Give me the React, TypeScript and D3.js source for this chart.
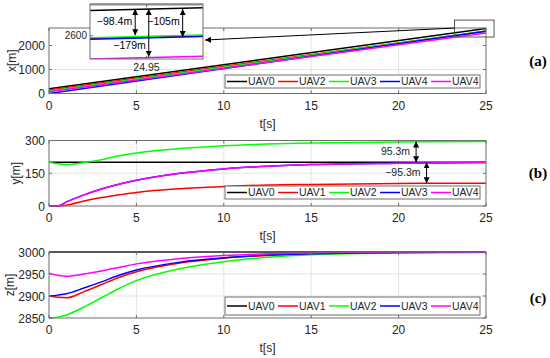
import React from 'react';
import * as d3 from 'd3';

// time knots for the curved panels (y, z)
const T = [0, 0.5, 1, 2, 3, 4, 5, 7.5, 10, 12.5, 15, 20, 25];
const T_LIN = [0, 25];

// panel (a) x positions — straight lines
const X_UAV0 = [200, 2705];
const X_UAV1 = [150, 2600];
const X_UAV2 = [100, 2603];
const X_UAV3 = [0, 2597];
const X_UAV4 = [70, 2523];

// panel (b) y positions
const Y_UAV0 = [200, 200, 200, 200, 200, 200, 200, 200, 200, 200, 200, 200, 200];
const Y_UAV1 = [0, 0, 4, 23, 39, 51, 62, 79, 89, 96, 99, 103, 104.7];
const Y_UAV2 = [200, 193, 190, 199, 212, 230, 243, 263, 276, 284, 289, 293, 295.3];
const Y_UAV3 = [0, 0, 19, 51, 78, 100, 118, 150, 170, 182, 190, 196, 199];
const Y_UAV4 = [0, 0, 19, 51, 78, 100, 118, 150, 170, 182, 190, 196, 199];

// panel (c) z positions
const Z_UAV0 = [3000, 3000, 3000, 3000, 3000, 3000, 3000, 3000, 3000, 3000, 3000, 3000, 3000];
const Z_UAV1 = [2900, 2897, 2896, 2910, 2926, 2942, 2955, 2975, 2986, 2992, 2996, 2999, 3000];
const Z_UAV2 = [2850, 2852, 2857, 2875, 2896, 2917, 2935, 2962, 2978, 2988, 2994, 2998, 2999];
const Z_UAV3 = [2900, 2902, 2905, 2918, 2932, 2947, 2959, 2977, 2987, 2993, 2996, 2999, 3000];
const Z_UAV4 = [2952, 2947, 2945, 2950, 2957, 2965, 2973, 2985, 2992, 2996, 2998, 3000, 3000];

const COLORS = ['#000000', '#ff0000', '#00ff00', '#0000ff', '#ff00ff'];
const LEGEND_A = ['UAV0', 'UAV2', 'UAV3', 'UAV4', 'UAV4'];
const LEGEND_BC = ['UAV0', 'UAV1', 'UAV2', 'UAV3', 'UAV4'];

const X_TICKS = [0, 5, 10, 15, 20, 25];
const A_TICKS = [0, 1000, 2000];
const B_TICKS = [0, 150, 300];
const C_TICKS = [2850, 2900, 2950, 3000];

// arrows in panel (b): [t, from, to, label]
const B_ARROWS: [number, number, number, string][] = [
  [21.0, 295.3, 200, '95.3m'],
  [21.6, 200, 104.7, '\u221295.3m'],
];
// arrows in the zoom inset: [t, from, to, label, labelY]
const INSET_ARROWS: [number, number, number, string, number][] = [
  [24.94, 2700, 2601.6, '\u221298.4m', 2655],
  [24.952, 2700, 2521, '\u2212179m', 2565],
  [24.982, 2700, 2595, '\u2212105m', 2655],
];

const FONT = '"Liberation Sans", Arial, sans-serif';
const L = 49;
const R = 486;

function Panel({ top, bottom, domain, ticks, series, times, names, legendY, legendH, ylabel, ylabelX, tag }) {
  const x = d3.scaleLinear().domain([0, 25]).range([L, R]);
  const y = d3.scaleLinear().domain(domain).range([bottom, top]);
  const line = d3.line<[number, number]>()
    .x((d) => x(d[0]))
    .y((d) => y(d[1]))
    .curve(times.length > 2 ? d3.curveMonotoneX : d3.curveLinear);
  const clipId = `clip-${tag}`;
  const lx = 225;
  const lw = 255;
  return (
    <g>
      <defs>
        <clipPath id={clipId}>
          <rect x={L} y={top - 2} width={R - L} height={bottom - top + 4} />
        </clipPath>
      </defs>
      <rect x={L} y={top} width={R - L} height={bottom - top} fill="#fff" />
      {X_TICKS.slice(1, -1).map((t) => (
        <line key={`gx${t}`} x1={x(t)} x2={x(t)} y1={top} y2={bottom} stroke="#e3e3e3" />
      ))}
      {ticks.slice(1, -1).map((v) => (
        <line key={`gy${v}`} x1={L} x2={R} y1={y(v)} y2={y(v)} stroke="#e3e3e3" />
      ))}
      <g clipPath={`url(#${clipId})`}>
        {series.map((vals, i) => (
          <path key={i} d={line(times.map((t, j) => [t, vals[j]])) || ''}
            fill="none" stroke={COLORS[i]} strokeWidth={1.5} />
        ))}
      </g>
      <rect x={L} y={top} width={R - L} height={bottom - top} fill="none" stroke="#6e6e6e" strokeWidth={1} />
      {X_TICKS.map((t) => (
        <g key={`tx${t}`}>
          <line x1={x(t)} x2={x(t)} y1={bottom} y2={bottom - 3} stroke="#6e6e6e" />
          <line x1={x(t)} x2={x(t)} y1={top} y2={top + 3} stroke="#6e6e6e" />
          <text x={x(t)} y={bottom + 16} textAnchor="middle" fontSize={12} fontFamily={FONT} fill="#262626">{t}</text>
        </g>
      ))}
      {ticks.map((v) => (
        <g key={`ty${v}`}>
          <line x1={L} x2={L + 3} y1={y(v)} y2={y(v)} stroke="#6e6e6e" />
          <line x1={R} x2={R - 3} y1={y(v)} y2={y(v)} stroke="#6e6e6e" />
          <text x={L - 4} y={y(v) + 4.5} textAnchor="end" fontSize={12} fontFamily={FONT} fill="#262626">{v}</text>
        </g>
      ))}
      <text x={(L + R) / 2} y={bottom + 34} textAnchor="middle" fontSize={12} fontFamily={FONT} fill="#262626">t[s]</text>
      <text transform={`translate(${ylabelX},${(top + bottom) / 2}) rotate(-90)`} textAnchor="middle"
        fontSize={12} fontFamily={FONT} fill="#262626">{ylabel}</text>
      <rect x={lx} y={legendY} width={lw} height={legendH} fill="#fff" stroke="#6e6e6e" />
      {names.map((n, i) => {
        const ex = lx + 2 + i * 51;
        const cy = legendY + legendH / 2;
        return (
          <g key={`lg${i}`}>
            <line x1={ex} x2={ex + 20} y1={cy} y2={cy} stroke={COLORS[i]} strokeWidth={1.5} />
            <text x={ex + 21} y={cy + 3.7} fontSize={10.5} fontFamily={FONT} fill="#262626">{n}</text>
          </g>
        );
      })}
    </g>
  );
}

function ArrowDefs() {
  return (
    <defs>
      <marker id="ah" viewBox="0 0 10 10" refX="10" refY="5" markerWidth="6" markerHeight="6"
        markerUnits="userSpaceOnUse" orient="auto-start-reverse">
        <path d="M0,0 L10,5 L0,10 z" fill="#000" />
      </marker>
    </defs>
  );
}

function Inset({ panelY }) {
  const ix = d3.scaleLinear().domain([24.9, 25.0]).range([90, 203]);
  const iy = d3.scaleLinear().domain([2513, 2719]).range([59, 4]);
  const series = [X_UAV0, X_UAV1, X_UAV2, X_UAV3, X_UAV4];
  const lin = (vals, t) => vals[0] + ((vals[1] - vals[0]) * t) / 25;
  // the zoomed region drawn in the main axes
  const zx0 = panelY.x(23.2);
  const zx1 = panelY.x(25.46);
  const zy0 = panelY.y(3060);
  const zy1 = panelY.y(2354);
  return (
    <g>
      <rect x={zx0} y={zy0} width={zx1 - zx0} height={zy1 - zy0} fill="none" stroke="#555" />
      <line x1={zx0} y1={(zy0 + zy1) / 2 - 0.5} x2={205} y2={40} stroke="#000" markerEnd="url(#ah)" />
      <defs>
        <clipPath id="clip-inset">
          <rect x={90} y={4} width={113} height={55} />
        </clipPath>
      </defs>
      <rect x={90} y={4} width={113} height={55} fill="#fff" />
      <g clipPath="url(#clip-inset)">
        {series.map((vals, i) => (
          <line key={i} x1={ix(24.9)} x2={ix(25)} y1={iy(lin(vals, 24.9))} y2={iy(lin(vals, 25))}
            stroke={COLORS[i]} strokeWidth={1.5} />
        ))}
      </g>
      <rect x={90} y={4} width={113} height={55} fill="none" stroke="#6e6e6e" />
      <line x1={90} x2={203} y1={4.5} y2={4.5} stroke="#8a8a8a" strokeWidth={2} />
      <line x1={ix(24.95)} x2={ix(24.95)} y1={4} y2={7} stroke="#6e6e6e" />
      <line x1={ix(24.95)} x2={ix(24.95)} y1={59} y2={56} stroke="#6e6e6e" />
      <line x1={90} x2={93} y1={iy(2600)} y2={iy(2600)} stroke="#6e6e6e" />
      <text x={ix(24.95)} y={71} textAnchor="middle" fontSize={10.5} fontFamily={FONT} fill="#262626">24.95</text>
      <text x={87} y={iy(2600) + 3} textAnchor="end" fontSize={10} fontFamily={FONT} fill="#262626">2600</text>
      {INSET_ARROWS.map(([t, a, b, lab, ly], i) => (
        <g key={i}>
          <line x1={ix(t)} x2={ix(t)} y1={iy(a)} y2={iy(b)} stroke="#000" strokeWidth={1}
            markerStart="url(#ah)" markerEnd="url(#ah)" />
          <text x={ix(t) - 3} y={iy(ly) + 3.5} textAnchor="end" fontSize={10.5} fontFamily={FONT} fill="#000">{lab}</text>
        </g>
      ))}
    </g>
  );
}

export default function App() {
  const xA = d3.scaleLinear().domain([0, 25]).range([L, R]);
  const yA = d3.scaleLinear().domain([0, 2730]).range([93.5, 28]);
  const yB = d3.scaleLinear().domain([0, 300]).range([206, 140.5]);
  return (
    <div style={{ position: 'absolute', left: 0, top: 0 }}>
      <svg width={550} height={358} viewBox="0 0 550 358" style={{ display: 'block', background: '#fff' }}>
        <ArrowDefs />
        <Panel tag="a" top={28} bottom={93.5} domain={[0, 2730]} ticks={A_TICKS}
          series={[X_UAV0, X_UAV1, X_UAV2, X_UAV3, X_UAV4]} times={T_LIN} names={LEGEND_A}
          legendY={75} legendH={13} ylabel="x[m]" ylabelX={16} />
        <Panel tag="b" top={140.5} bottom={206} domain={[0, 300]} ticks={B_TICKS}
          series={[Y_UAV0, Y_UAV1, Y_UAV2, Y_UAV3, Y_UAV4]} times={T} names={LEGEND_BC}
          legendY={186} legendH={13} ylabel="y[m]" ylabelX={20} />
        <Panel tag="c" top={252} bottom={318} domain={[2850, 3000]} ticks={C_TICKS}
          series={[Z_UAV0, Z_UAV1, Z_UAV2, Z_UAV3, Z_UAV4]} times={T} names={LEGEND_BC}
          legendY={297} legendH={18} ylabel="z[m]" ylabelX={14} />
        {B_ARROWS.map(([t, a, b, lab], i) => (
          <g key={i}>
            <line x1={xA(t)} x2={xA(t)} y1={yB(a)} y2={yB(b)} stroke="#000"
              markerStart="url(#ah)" markerEnd="url(#ah)" />
            <text x={xA(t) - 6} y={(yB(a) + yB(b)) / 2 + 3.5} textAnchor="end" fontSize={10.5}
              fontFamily={FONT} fill="#262626">{lab}</text>
          </g>
        ))}
        <Inset panelY={{ x: xA, y: yA }} />
        {[['(a)', 61], ['(b)', 173], ['(c)', 298]].map(([s, yy]) => (
          <text key={s as string} x={538} y={(yy as number) + 5} textAnchor="middle" fontSize={15}
            fontWeight="bold" fontFamily='"Liberation Serif", "Times New Roman", serif' fill="#000">{s}</text>
        ))}
      </svg>
    </div>
  );
}
